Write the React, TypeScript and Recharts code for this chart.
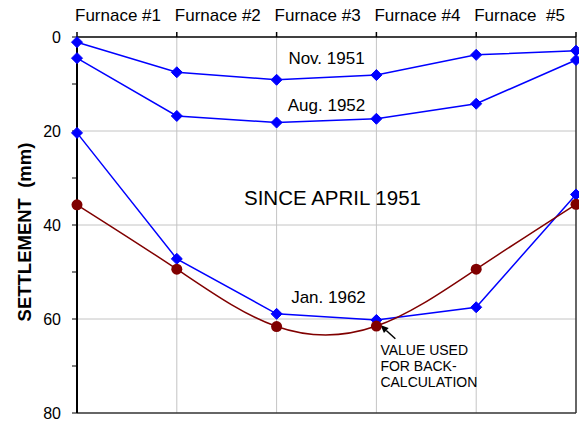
import React from "react";
import { LineChart, Line, XAxis, YAxis, CartesianGrid, ReferenceDot, ReferenceLine } from "recharts";

const positions = [0, 1, 2, 3, 4, 5];
const furnaceLabels = ["Furnace #1", "Furnace #2", "Furnace #3", "Furnace #4", "Furnace  #5"];
const yTicks = [0, 10, 20, 30, 40, 50, 60, 70, 80];

const nov1951 = [1.1, 7.5, 9.1, 8.1, 3.8, 2.9];
const aug1952 = [4.5, 16.8, 18.2, 17.4, 14.2, 4.9];
const jan1962 = [20.4, 47.2, 58.9, 60.2, 57.5, 33.5];
const backCalc = [35.7, 49.4, 61.6, 61.5, 49.4, 35.6];

const data = positions.map((x, i) => ({
  x,
  nov: nov1951[i],
  aug: aug1952[i],
  jan: jan1962[i],
  back: backCalc[i],
}));

const BLUE = "#0000ff";
const RED = "#800000";
const FONT = "'Liberation Sans', Arial, sans-serif";

function Diamond(props: any) {
  const { cx, cy, index } = props;
  if (cx == null || cy == null) return null;
  const s = 5.5;
  return (
    <polygon
      key={`dm-${props.dataKey}-${index}`}
      points={`${cx},${cy - s} ${cx + s},${cy} ${cx},${cy + s} ${cx - s},${cy}`}
      fill={BLUE}
      stroke={BLUE}
    />
  );
}

function FurnaceTick(props: any) {
  const { x, y, payload } = props;
  const label = furnaceLabels[payload.index];
  if (!label) return null;
  return (
    <text x={x - 2} y={y} textAnchor="start" fontSize={17} fontFamily={FONT} fill="#000" style={{ whiteSpace: "pre" }}>
      {label}
    </text>
  );
}

function Arrow(props: any) {
  const { x1, y1, x2, y2 } = props;
  const dx = x2 - x1;
  const dy = y2 - y1;
  const len = Math.sqrt(dx * dx + dy * dy) || 1;
  const ux = dx / len;
  const uy = dy / len;
  const hl = 8;
  const hw = 3.5;
  const bx = x2 - ux * hl;
  const by = y2 - uy * hl;
  return (
    <g>
      <line x1={x1} y1={y1} x2={bx} y2={by} stroke="#000" strokeWidth={1.5} />
      <polygon
        points={`${x2},${y2} ${bx - uy * hw},${by + ux * hw} ${bx + uy * hw},${by - ux * hw}`}
        fill="#000"
      />
    </g>
  );
}

const noteStyle = { fontSize: 17, fill: "#000", fontFamily: FONT };

export default function App() {
  return (
    <div style={{ position: "absolute", left: 0, top: 0, width: 579, height: 421, background: "#fff" }}>
      <LineChart width={579} height={421} data={data} margin={{ top: 0, right: 3, bottom: 8, left: 0 }}>
        <CartesianGrid
          stroke="#c4c4c4"
          horizontalValues={[20, 40, 60]}
          verticalValues={[1, 2, 3, 4]}
        />
        <XAxis
          dataKey="x"
          type="number"
          domain={[0, 5]}
          ticks={positions}
          orientation="top"
          height={37}
          tickSize={5}
          tickMargin={11}
          axisLine={{ stroke: "#000", strokeWidth: 1.5 }}
          tickLine={{ stroke: "#000", strokeWidth: 1.5 }}
          tick={<FurnaceTick />}
          interval={0}
        />
        <YAxis
          type="number"
          domain={[0, 80]}
          reversed
          ticks={yTicks}
          interval={0}
          width={77}
          tickSize={5}
          tickMargin={11}
          tickFormatter={(v: number) => (v % 20 === 0 ? String(v) : "")}
          tick={{ fontSize: 16, fill: "#000", fontFamily: FONT }}
          axisLine={{ stroke: "#000", strokeWidth: 2 }}
          tickLine={{ stroke: "#000", strokeWidth: 1 }}
          label={{
            content: (p: any) => {
              const vb = p.viewBox || { x: 0, y: 0, height: 0 };
              const cx = vb.x + 31;
              const cy = vb.y + vb.height / 2 + 7;
              return (
                <text
                  x={cx}
                  y={cy}
                  transform={`rotate(-90, ${cx}, ${cy})`}
                  textAnchor="middle"
                  fontSize={18.5}
                  fontWeight="bold"
                  fontFamily={FONT}
                  fill="#000"
                  style={{ whiteSpace: "pre" }}
                >
                  SETTLEMENT  (mm)
                </text>
              );
            },
          }}
        />

        <ReferenceLine x={5} stroke="#333" strokeWidth={1.5} />
        <ReferenceLine y={80} stroke="#333" strokeWidth={1.5} />

        <Line dataKey="nov" type="linear" stroke={BLUE} strokeWidth={1.5} dot={<Diamond />} activeDot={false} isAnimationActive={false} />
        <Line dataKey="aug" type="linear" stroke={BLUE} strokeWidth={1.5} dot={<Diamond />} activeDot={false} isAnimationActive={false} />
        <Line dataKey="jan" type="linear" stroke={BLUE} strokeWidth={1.5} dot={<Diamond />} activeDot={false} isAnimationActive={false} />
        <Line
          dataKey="back"
          type="natural"
          stroke={RED}
          strokeWidth={1.5}
          dot={{ r: 5.5, fill: RED, stroke: RED, strokeWidth: 0 }}
          activeDot={false}
          isAnimationActive={false}
        />

        <ReferenceDot x={2.5} y={4.5} r={0} fill="none" stroke="none" label={{ value: "Nov. 1951", position: "center", ...noteStyle }} />
        <ReferenceDot x={2.5} y={14.5} r={0} fill="none" stroke="none" label={{ value: "Aug. 1952", position: "center", ...noteStyle }} />
        <ReferenceDot x={2.56} y={34.3} r={0} fill="none" stroke="none" label={{ value: "SINCE APRIL 1951", position: "center", ...noteStyle, fontSize: 20.5 }} />
        <ReferenceDot x={2.52} y={55.3} r={0} fill="none" stroke="none" label={{ value: "Jan. 1962", position: "center", ...noteStyle }} />
        <ReferenceDot x={3.04} y={66.6} r={0} fill="none" stroke="none" label={{ value: "VALUE USED", position: "insideLeft", offset: 0, ...noteStyle, fontSize: 14 }} />
        <ReferenceDot x={3.04} y={70.0} r={0} fill="none" stroke="none" label={{ value: "FOR BACK-", position: "insideLeft", offset: 0, ...noteStyle, fontSize: 14 }} />
        <ReferenceDot x={3.04} y={73.4} r={0} fill="none" stroke="none" label={{ value: "CALCULATION", position: "insideLeft", offset: 0, ...noteStyle, fontSize: 14 }} />
        <ReferenceLine
          segment={[{ x: 3.19, y: 64.2 }, { x: 3.04, y: 61.3 }]}
          shape={(p: any) => <Arrow {...p} />}
        />
      </LineChart>
    </div>
  );
}
